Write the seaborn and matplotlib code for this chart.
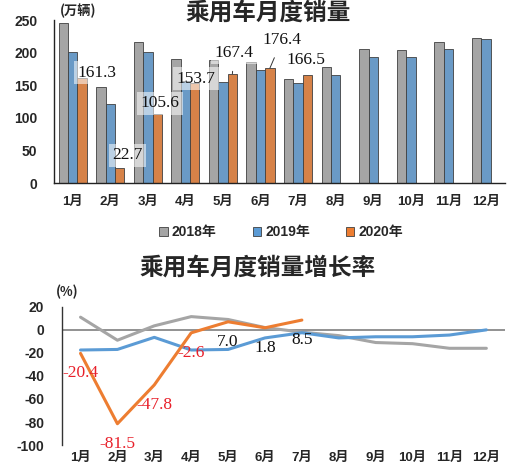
import matplotlib
matplotlib.use('Agg')
import matplotlib.pyplot as plt
from matplotlib.patches import Patch
import seaborn as sns
import pandas as pd
import numpy as np

# 数据
months = ['1月', '2月', '3月', '4月', '5月', '6月', '7月', '8月', '9月', '10月', '11月', '12月']
years = ['2018年', '2019年', '2020年']
sales_2018 = [245, 147, 217, 191, 189, 186, 159, 178, 205, 204, 217, 223]
sales_2019 = [201, 122, 201, 156, 155, 173, 153, 165, 193, 193, 205, 221]
sales_2020 = [161.3, 22.7, 105.6, 153.7, 167.4, 176.4, 166.5]

growth_2018 = [11, -9, 3.5, 11.5, 9, 2, -2, -5, -11, -12, -16, -16]
growth_2019 = [-17.5, -17, -6.5, -17.5, -17, -7, -2.5, -7, -6, -6, -4.5, 0]
growth_2020 = [-20.4, -81.5, -47.8, -2.6, 7.0, 1.8, 8.5]

colors = {'2018年': '#A5A5A5', '2019年': '#5B9BD5', '2020年': '#ED7D31'}

sns.set_theme(style="white")
plt.rcParams['font.family'] = ['Liberation Sans', 'Noto Sans CJK SC', 'DejaVu Sans']
plt.rcParams['font.weight'] = 'bold'
plt.rcParams['axes.unicode_minus'] = False

rows = []
for y, vals in zip(years, [sales_2018, sales_2019, sales_2020]):
    for m, v in zip(months, vals + [np.nan] * (12 - len(vals))):
        rows.append({'month': m, 'year': y, 'sales': v})
df = pd.DataFrame(rows)

fig = plt.figure(figsize=(5.13, 4.67), dpi=100)
ax1 = fig.add_axes([0.105, 0.608, 0.879, 0.349])
ax2 = fig.add_axes([0.121, 0.047, 0.863, 0.296])

# 上图：月度销量柱状图
sns.barplot(data=df, x='month', y='sales', hue='year', order=months, hue_order=years,
            palette=colors, width=0.75, edgecolor='#404040', linewidth=0.6,
            legend=False, ax=ax1)
ax1.set_xlim(-0.5, 11.5)
ax1.set_ylim(0, 250)
ax1.set_yticks([0, 50, 100, 150, 200, 250])
ax1.set_xlabel('')
ax1.set_ylabel('')
for s in ['top', 'right']:
    ax1.spines[s].set_visible(False)
for s in ['left', 'bottom']:
    ax1.spines[s].set_color('#222222')
    ax1.spines[s].set_linewidth(1.0)
ax1.tick_params(axis='y', length=0, pad=12, labelsize=10)
ax1.tick_params(axis='x', length=0, pad=9, labelsize=9.5)

serif = ['Liberation Serif', 'DejaVu Serif']
box = dict(boxstyle='square,pad=0.2', facecolor='white', edgecolor='none', alpha=0.55)
# 标签偏移（像素 -> 点）
offsets_top = [(15, 5), (8, 13), (3, 11), (1, 4), (2, 21), (12, 28), (-2, 15)]
for i, (v, (dx, dy)) in enumerate(zip(sales_2020, offsets_top)):
    xb = i + 0.25
    arrow = None
    if i in (4, 5):
        arrow = dict(arrowstyle='-', color='#333333', lw=0.7, shrinkA=5, shrinkB=0)
    ax1.annotate(f'{v:.1f}', xy=(xb, v), xytext=(dx * 0.72, dy * 0.72),
                 textcoords='offset points', ha='center', va='center',
                 fontsize=12.5, fontweight='normal', family=serif, color='#111111',
                 bbox=box if i not in (5, 6) else None, arrowprops=arrow)

fig.text(78 / 513, 1 - 11 / 467, '(万辆)', ha='center', va='center', fontsize=9.5,
         fontweight='bold', family=['Noto Sans CJK SC'])
fig.text(268 / 513, 1 - 12.5 / 467, '乘用车月度销量', ha='center', va='center', fontsize=17,
         fontweight='bold', family=['Noto Sans CJK SC'])

handles = [Patch(facecolor=colors[y], edgecolor='#404040', linewidth=0.6, label=y) for y in years]
fig.legend(handles=handles, loc='center', bbox_to_anchor=(0.548, 1 - 232 / 467), ncol=3,
           frameon=False, handlelength=0.6, handleheight=0.6, handletextpad=0.3,
           columnspacing=2.6, prop={'size': 10, 'weight': 'bold'})

# 下图：增长率折线图
ax2.axhline(0, color='#7F7F7F', lw=1.2, zorder=1)
sns.lineplot(x=months, y=growth_2018, color=colors['2018年'], lw=2.2, sort=False, ax=ax2)
sns.lineplot(x=months, y=growth_2019, color=colors['2019年'], lw=2.2, sort=False, ax=ax2)
sns.lineplot(x=months[:7], y=growth_2020, color=colors['2020年'], lw=2.2, sort=False, ax=ax2)
ax2.set_xlim(-0.5, 11.5)
ax2.set_ylim(-100, 20)
ax2.set_yticks(range(-100, 21, 20))
for s in ['top', 'right', 'bottom']:
    ax2.spines[s].set_visible(False)
ax2.spines['left'].set_color('#333333')
ax2.spines['left'].set_linewidth(1.0)
ax2.tick_params(axis='y', length=0, pad=13, labelsize=10)
ax2.tick_params(axis='x', length=0, pad=5, labelsize=9.5)

for i, v in enumerate(growth_2020):
    ax2.annotate(f'{v:.1f}', xy=(i, v), xytext=(0, -20 * 0.72), textcoords='offset points',
                 ha='center', va='center', fontsize=12.5, fontweight='normal', family=serif,
                 color='#E8202A' if v < 0 else '#111111')

fig.text(67 / 513, 1 - 292 / 467, '(%)', ha='center', va='center', fontsize=9.5,
         fontweight='bold', family=['Noto Sans CJK SC'])
fig.text(258 / 513, 1 - 268 / 467, '乘用车月度销量增长率', ha='center', va='center',
         fontsize=17, fontweight='bold', family=['Noto Sans CJK SC'])

fig.savefig('out.png', dpi=100)
